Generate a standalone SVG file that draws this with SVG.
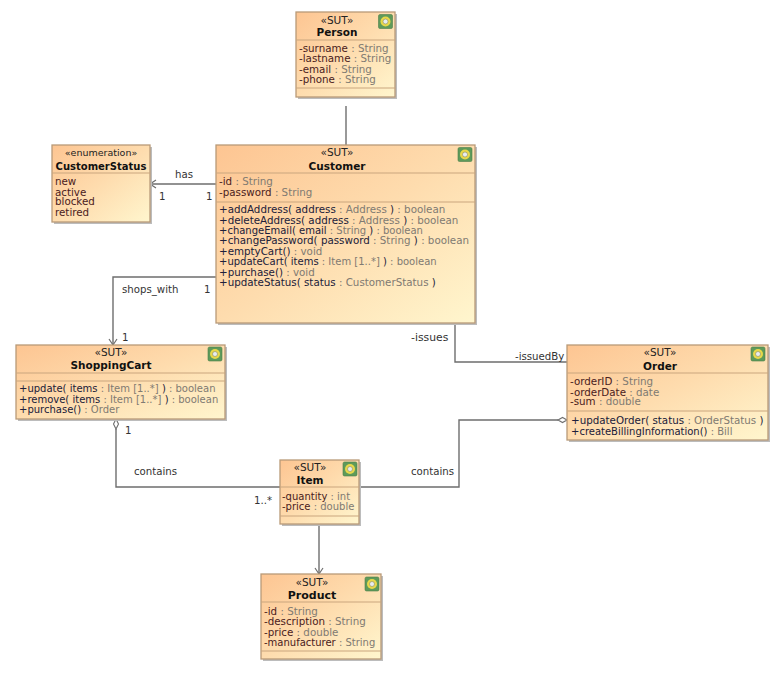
<svg xmlns="http://www.w3.org/2000/svg" width="780" height="678" viewBox="0 0 780 678">
<style>
text{font-family:"DejaVu Sans","Liberation Sans",sans-serif;font-size:10.3px;fill:#3a2a2a}
.box{fill:url(#g);stroke:#b99a78;stroke-width:1.3}
.sh{fill:#bcbcbc}
.sep{stroke:#c9a57f;stroke-width:1.2;fill:none}
.st{text-anchor:middle;font-size:10.5px;fill:#222}
.nm{text-anchor:middle;font-weight:bold;fill:#111;font-size:10.5px}
.t{fill:#807a72}
.m{fill:#20203a}
.a{fill:#4a2020}
.s{font-size:10px}
.c{fill:none;stroke:#6e6e6e;stroke-width:1.4}
.l{fill:#333;font-size:10.2px}
</style>
<defs>
<linearGradient id="g" x1="0" y1="0" x2="1" y2="1"><stop offset="0" stop-color="#fdc592"/><stop offset="0.5" stop-color="#fedcae"/><stop offset="1" stop-color="#fff6ce"/></linearGradient>
<marker id="open" markerWidth="10" markerHeight="10" refX="8" refY="5" orient="auto" markerUnits="userSpaceOnUse"><path d="M2 1L8 5L2 9" fill="none" stroke="#6e6e6e" stroke-width="1.2"/></marker>
<g id="icon"><rect width="14" height="14" rx="1.5" fill="#5f9a5a" stroke="#4c7f4c" stroke-width=".6"/><circle cx="7" cy="7" r="5" fill="#e8d84a"/><circle cx="7" cy="7" r="2.5" fill="#e8edf0" stroke="#8a8a5a" stroke-width=".6"/></g>
</defs>
<g id="connectors">
<path class="c" d="M346 106V145"/>
<path class="c" d="M216 184H150" marker-end="url(#open)"/>
<path class="c" d="M216 277H113V345" marker-end="url(#open)"/>
<path class="c" d="M455 323V362H567"/>
<path class="c" d="M116 429V487H280"/>
<path d="M116 419L118.500 424L116 429L113.500 424Z" fill="#fff" stroke="#6e6e6e" stroke-width="1.100"/>
<path class="c" d="M359 487H459V420H558"/>
<path d="M567 420L562.500 422.500L558 420L562.500 417.500Z" fill="#fff" stroke="#6e6e6e" stroke-width="1.100"/>
<path class="c" d="M319 524V574" marker-end="url(#open)"/>
<text class="l" x="175" y="178">has</text>
<text class="l" x="159" y="200">1</text>
<text class="l" x="206" y="200">1</text>
<text class="l" x="122" y="293">shops_with</text>
<text class="l" x="204" y="293">1</text>
<text class="l" x="122" y="341">1</text>
<text class="l" x="411" y="341" style="font-size:10.800px">-issues</text>
<text class="l" x="515" y="360">-issuedBy</text>
<text class="l" x="125" y="434">1</text>
<text class="l" x="134" y="475">contains</text>
<text class="l" x="254" y="504">1..*</text>
<text class="l" x="411" y="475">contains</text>
</g>
<g id="person">
<rect class="sh" x="298" y="14" width="99" height="85"/><rect class="box" x="296" y="12" width="99" height="85"/>
<path class="sep" d="M296 40H395M296 88H395"/>
<text class="st" x="337" y="24">«SUT»</text><text class="nm" x="337" y="36">Person</text>
<use href="#icon" x="378.500" y="14.500"/>
<text x="299" y="52"><tspan class="a">-surname</tspan><tspan class="t"> : String</tspan></text>
<text x="299" y="62"><tspan class="a">-lastname</tspan><tspan class="t"> : String</tspan></text>
<text x="299" y="73"><tspan class="a">-email</tspan><tspan class="t"> : String</tspan></text>
<text x="299" y="83"><tspan class="a">-phone</tspan><tspan class="t"> : String</tspan></text>
</g>
<g id="customer-status">
<rect class="sh" x="54" y="147" width="98" height="77"/><rect class="box" x="52" y="145" width="98" height="77"/>
<path class="sep" d="M52 173H150"/>
<text class="st" x="101" y="156" style="font-size:9.500px">«enumeration»</text><text class="nm" x="101" y="170" style="font-size:10px">CustomerStatus</text>
<text class="a" x="55" y="185">new</text><text class="a" x="55" y="196">active</text><text class="a" x="55" y="205">blocked</text><text class="a" x="55" y="216">retired</text>
</g>
<g id="customer">
<rect class="sh" x="218" y="147" width="259" height="178"/><rect class="box" x="216" y="145" width="259" height="178"/>
<path class="sep" d="M216 173H475M216 202H475"/>
<text class="st" x="337" y="156">«SUT»</text><text class="nm" x="337" y="170">Customer</text>
<use href="#icon" x="458" y="147.500"/>
<text x="219" y="185"><tspan class="a">-id</tspan><tspan class="t"> : String</tspan></text>
<text x="219" y="196"><tspan class="a">-password</tspan><tspan class="t"> : String</tspan></text>
<text x="219" y="213"><tspan class="m">+addAddress( address</tspan><tspan class="t"> : Address </tspan><tspan class="m">)</tspan><tspan class="t"> : boolean</tspan></text>
<text x="219" y="224"><tspan class="m">+deleteAddress( address</tspan><tspan class="t"> : Address </tspan><tspan class="m">)</tspan><tspan class="t"> : boolean</tspan></text>
<text x="219" y="234" class="s"><tspan class="m">+changeEmail( email</tspan><tspan class="t"> : String </tspan><tspan class="m">)</tspan><tspan class="t"> : boolean</tspan></text>
<text x="219" y="244"><tspan class="m">+changePassword( password</tspan><tspan class="t"> : String </tspan><tspan class="m">)</tspan><tspan class="t"> : boolean</tspan></text>
<text x="219" y="255"><tspan class="m">+emptyCart()</tspan><tspan class="t"> : void</tspan></text>
<text x="219" y="265" class="s"><tspan class="m">+updateCart( items</tspan><tspan class="t"> : Item [1..*] </tspan><tspan class="m">)</tspan><tspan class="t"> : boolean</tspan></text>
<text x="219" y="276"><tspan class="m">+purchase()</tspan><tspan class="t"> : void</tspan></text>
<text x="219" y="286"><tspan class="m">+updateStatus( status</tspan><tspan class="t"> : CustomerStatus </tspan><tspan class="m">)</tspan></text>
</g>
<g id="shopping-cart">
<rect class="sh" x="18" y="347" width="209" height="74"/><rect class="box" x="16" y="345" width="209" height="74"/>
<path class="sep" d="M16 373H225M16 381H225"/>
<text class="st" x="111" y="356">«SUT»</text><text class="nm" x="111" y="369">ShoppingCart</text>
<use href="#icon" x="208" y="347"/>
<text x="19" y="392" class="s"><tspan class="m">+update( items</tspan><tspan class="t"> : Item [1..*] </tspan><tspan class="m">)</tspan><tspan class="t"> : boolean</tspan></text>
<text x="19" y="403" class="s"><tspan class="m">+remove( items</tspan><tspan class="t"> : Item [1..*] </tspan><tspan class="m">)</tspan><tspan class="t"> : boolean</tspan></text>
<text x="19" y="413" class="s"><tspan class="m">+purchase()</tspan><tspan class="t"> : Order</tspan></text>
</g>
<g id="order">
<rect class="sh" x="569" y="347" width="201" height="95"/><rect class="box" x="567" y="345" width="201" height="95"/>
<path class="sep" d="M567 373H768M567 411H768"/>
<text class="st" x="660" y="356">«SUT»</text><text class="nm" x="660" y="370">Order</text>
<use href="#icon" x="751" y="347"/>
<text x="570" y="385"><tspan class="a">-orderID</tspan><tspan class="t"> : String</tspan></text>
<text x="570" y="396"><tspan class="a">-orderDate</tspan><tspan class="t"> : date</tspan></text>
<text x="570" y="405"><tspan class="a">-sum</tspan><tspan class="t"> : double</tspan></text>
<text x="571" y="424"><tspan class="m">+updateOrder( status</tspan><tspan class="t"> : OrderStatus </tspan><tspan class="m">)</tspan></text>
<text x="571" y="435" class="s"><tspan class="m">+createBillingInformation()</tspan><tspan class="t"> : Bill</tspan></text>
</g>
<g id="item">
<rect class="sh" x="282" y="462" width="79" height="64"/><rect class="box" x="280" y="460" width="79" height="64"/>
<path class="sep" d="M280 487H359M280 516H359"/>
<text class="st" x="310" y="471">«SUT»</text><text class="nm" x="310" y="484">Item</text>
<use href="#icon" x="343" y="462"/>
<text x="282" y="500" class="s"><tspan class="a">-quantity</tspan><tspan class="t"> : int</tspan></text>
<text x="282" y="510" class="s"><tspan class="a">-price</tspan><tspan class="t"> : double</tspan></text>
</g>
<g id="product">
<rect class="sh" x="263" y="576" width="120" height="85"/><rect class="box" x="261" y="574" width="120" height="85"/>
<path class="sep" d="M261 602H381M261 651H381"/>
<text class="st" x="312" y="586">«SUT»</text><text class="nm" x="312" y="599" style="font-size:11px">Product</text>
<use href="#icon" x="365" y="577"/>
<text x="264" y="615"><tspan class="a">-id</tspan><tspan class="t"> : String</tspan></text>
<text x="264" y="625"><tspan class="a">-description</tspan><tspan class="t"> : String</tspan></text>
<text x="264" y="636"><tspan class="a">-price</tspan><tspan class="t"> : double</tspan></text>
<text x="264" y="646" class="s"><tspan class="a">-manufacturer</tspan><tspan class="t"> : String</tspan></text>
</g>
</svg>
